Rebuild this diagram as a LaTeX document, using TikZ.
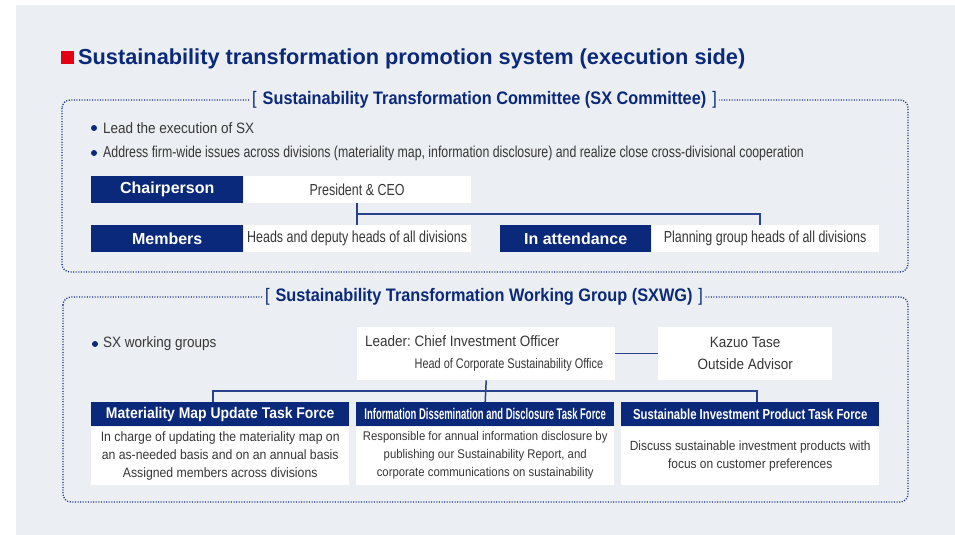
\documentclass[tikz,border=0pt]{standalone}
\usepackage{fontspec}
\setmainfont{Liberation Sans}
\newfontfamily\cond[FakeStretch=0.9]{Liberation Sans}
\newfontfamily\condn[FakeStretch=0.78]{Liberation Sans}
\newfontfamily\condx[FakeStretch=0.61]{Liberation Sans}
\usetikzlibrary{calc}
\frenchspacing

\begin{document}
\begin{tikzpicture}[x=1pt, y=-1pt,
    labbox/.style={fill=navy, text=white, inner sep=0, anchor=north west,
      minimum height=27, font=\bfseries\fontsize{16}{19}\selectfont},
    valbox/.style={fill=white, text=ink, inner sep=0, anchor=north west,
      minimum height=27, font=\condn\fontsize{16}{19}\selectfont},
    bultxt/.style={text=ink, inner sep=0, anchor=west,
      font=\cond\fontsize{15}{18}\selectfont},
    frame/.style={navy, line width=1.3pt, dash pattern=on 1pt off 1.6pt,
      rounded corners=8},
    head/.style={fill=bgray, text=navy, inner xsep=2, inner ysep=0,
      font=\cond\bfseries\fontsize{18.1}{21}\selectfont},
    link/.style={draw=conn, line width=1.5pt},
    tfhead/.style={fill=navy, text=white, anchor=north west, inner sep=0,
      minimum width=258, minimum height=24},
    tfbody/.style={fill=white, text=ink, anchor=north, inner sep=0,
      minimum width=258, minimum height=58, align=center}]
  % ----------- colours -----------
  \definecolor{navy}{RGB}{11,41,122}
  \definecolor{conn}{RGB}{40,66,140}
  \definecolor{bgray}{RGB}{235,238,242}
  \definecolor{ink}{RGB}{55,55,55}
  \definecolor{redsq}{RGB}{228,0,18}

  % background
  \useasboundingbox (0,0) rectangle (955,535);
  \fill[bgray] (16,5) rectangle (955,535);

  % title
  \fill[redsq] (61,51) rectangle (74,64);
  \node[anchor=base west, inner sep=0, text=navy,
    font=\bfseries\fontsize{21.75}{24}\selectfont] (title) at (78,65)
    {Sustainability transformation promotion system (execution side)};

  % =====================================
  %            SX Committee
  % =====================================
  \draw[frame] (62,100) rectangle (908,272);
  \node[head] (sxc) at (484.5,100)
    {{\mdseries[}\hspace{6pt}Sustainability Transformation Committee (SX Committee)\hspace{6pt}{\mdseries]}};

  % bullets
  \fill[navy] (94,128) circle (3);
  \node[bultxt] (b1) at (103,128) {Lead the execution of SX};
  \fill[navy] (94,153) circle (3);
  \node[bultxt, font=\condn\fontsize{15.8}{18}\selectfont] (b2) at (103,153)
    {Address firm-wide issues across divisions (materiality map, information disclosure) and realize close cross-divisional cooperation};

  % rows
  \node[labbox, minimum width=152] (chair) at (91,176) {Chairperson};
  \node[valbox, minimum width=227] (pres) at (chair.north east) {President \& CEO};
  \node[labbox, minimum width=152] (memlab) at (91,225) {Members};
  \node[valbox, minimum width=227] (memb) at (memlab.north east) {Heads and deputy heads of all divisions};
  \node[labbox, minimum width=151] (attlab) at (500,225) {In attendance};
  \node[valbox, minimum width=227] (att) at (attlab.north east) {Planning group heads of all divisions};

  % connectors
  \coordinate (jn) at ($(pres.south)!0.5!(memb.north)$);
  \draw[link] (pres.south) -- (memb.north);
  \draw[link] (jn) -| ([xshift=-5]att.north);

  % =====================================
  %            SXWG
  % =====================================
  \draw[frame] (63,297) rectangle (908,502);
  \node[head] (sxwg) at (484,297)
    {{\mdseries[}\hspace{6pt}Sustainability Transformation Working Group (SXWG)\hspace{6pt}{\mdseries]}};

  \fill[navy] (95,344) circle (3);
  \node[bultxt] (b3) at (103,344) {SX working groups};

  % leader and advisor
  \node[valbox, minimum width=258, minimum height=53, align=left,
    font=\cond\fontsize{15}{22}\selectfont] (lead) at (357,327)
    {\makebox[242pt][l]{Leader: Chief Investment Officer}\\
     \makebox[238pt][r]{\condn\fontsize{14}{22}\selectfont Head of Corporate Sustainability Office}};
  \node[valbox, minimum width=174, minimum height=53, align=center,
    font=\cond\fontsize{15}{22}\selectfont] (adv) at (658,327)
    {Kazuo Tase\\Outside Advisor};
  \draw[link] (lead.east) -- (adv.west);

  % task forces
  \node[tfhead, font=\cond\bfseries\fontsize{15.5}{18}\selectfont] (tfa) at (91,402)
    {Materiality Map Update Task Force};
  \node[tfhead, font=\condx\bfseries\fontsize{15.5}{18}\selectfont] (tfb) at (356,402)
    {Information Dissemination and Disclosure Task Force};
  \node[tfhead, font=\condn\bfseries\fontsize{14.5}{18}\selectfont] (tfc) at (621,402)
    {Sustainable Investment Product Task Force};

  \node[tfbody, font=\cond\fontsize{13.6}{18}\selectfont] (tfabody) at (tfa.south)
    {In charge of updating the materiality map on\\
     an as-needed basis and on an annual basis\\
     Assigned members across divisions};
  \node[tfbody, font=\cond\fontsize{12.6}{18}\selectfont] (tfbbody) at (tfb.south)
    {Responsible for annual information disclosure by\\
     publishing our Sustainability Report, and\\
     corporate communications on sustainability};
  \node[tfbody, font=\cond\fontsize{13.3}{18}\selectfont] (tfcbody) at (tfc.south)
    {Discuss sustainable investment products with\\
     focus on customer preferences};

  % connectors
  \coordinate (bus) at ($(lead.south)!0.5!(tfb.north)$);
  \draw[link] (lead.south) -- (tfb.north);
  \draw[link] ([xshift=-7]tfa.north) |- (bus) -| ([xshift=7]tfc.north);

\end{tikzpicture}
\end{document}
